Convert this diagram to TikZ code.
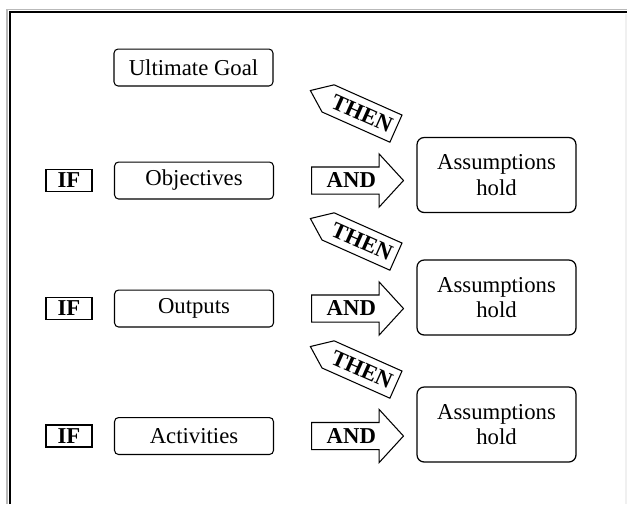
\documentclass[tikz,border=0pt]{standalone}
\usepackage{fontspec}
\setmainfont{Liberation Serif}
\usetikzlibrary{shapes.arrows}

\newcommand\diagsize{\fontsize{12.85}{14.5}\selectfont}

\tikzset{
  level/.style={draw, rounded corners=2.3pt, line width=.6pt, inner sep=0pt,
    minimum width=89.9pt, minimum height=20.9pt},
  ifbox/.style={draw, line width=.9pt, inner sep=0pt, font=\diagsize\bfseries,
    minimum width=26pt, minimum height=12.6pt},
  holdbox/.style={draw, rounded corners=4pt, line width=.7pt, inner sep=0pt,
    minimum width=89.9pt, minimum height=42.4pt, align=center},
  andarrow/.style={draw, single arrow, line width=.6pt, inner xsep=0pt,
    inner ysep=3.1pt, font=\diagsize\bfseries, minimum height=52pt,
    single arrow head extend=7.35pt, single arrow tip angle=95},
  thenarrow/.style={draw, single arrow, line width=.6pt, inner xsep=2.5pt,
    inner ysep=3.9pt, font=\diagsize\bfseries, minimum height=47pt,
    single arrow head extend=0pt, single arrow tip angle=75,
    shape border rotate=180, rotate=-24}
}

\begin{document}
\begin{tikzpicture}[x=0.5656pt, y=-0.5656pt, font=\diagsize]
\useasboundingbox (0,0) rectangle (627,504);
% frame, cut at right and bottom
\draw[gray!55, line width=1.1pt] (7,504) -- (7,9.5) -- (627,9.5);
\draw[line width=1.3pt] (10,504) -- (10,12) -- (627,12);
\draw[gray!12, line width=.6pt] (626,14) -- (626,504);

  \node[level] (goal) at (193.5,67.5) {Ultimate Goal};
  \node[thenarrow] (then1) at (362,113.5) {THEN};

% objectives
  \node[ifbox]  (if1)   at (69,180.5)     {IF};
  \node[level]  (obj)   at (194,180.5)    {Objectives};
  \node[andarrow, anchor=tail] (and1) at (311,180.5) {AND};
  \node[holdbox] (hold1) at (496.5,175) {Assumptions\\hold};
  \node[thenarrow] (then2) at (362,241.5) {THEN};
% outputs
  \node[ifbox]  (if2)   at (69,308.5)     {IF};
  \node[level]  (out)   at (194,308.5)    {Outputs};
  \node[andarrow, anchor=tail] (and2) at (311,308.5) {AND};
  \node[holdbox] (hold2) at (496.5,297.5) {Assumptions\\hold};
  \node[thenarrow] (then3) at (362,369.5) {THEN};
% activities
  \node[ifbox]  (if3)   at (69,436)     {IF};
  \node[level]  (act)   at (194,436)    {Activities};
  \node[andarrow, anchor=tail] (and3) at (311,436) {AND};
  \node[holdbox] (hold3) at (496.5,424.5) {Assumptions\\hold};
\end{tikzpicture}
\end{document}
